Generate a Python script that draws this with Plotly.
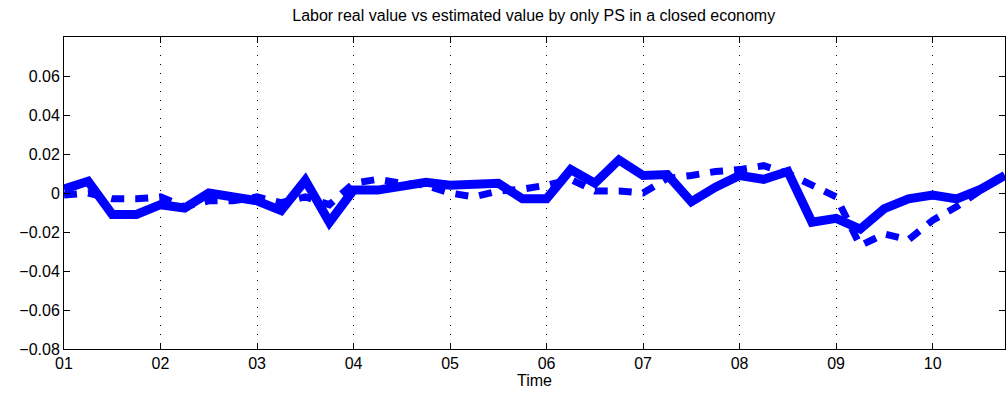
import plotly.graph_objects as go

t = [i * 0.25 for i in range(40)]
real = [0.002, 0.006, -0.011, -0.011, -0.006, -0.0077, 0.0, -0.002, -0.004, -0.009,
        0.0065, -0.015, 0.0015, 0.0015, 0.003, 0.0055, 0.004, 0.004, 0.005, -0.003,
        -0.003, 0.012, 0.005, 0.017, 0.009, 0.0095, -0.0045, 0.003, 0.009, 0.007,
        0.011, -0.015, -0.013, -0.0185, -0.008, -0.003, -0.001, -0.003, 0.002, 0.009]
est = [-0.001, 0.0, -0.003, -0.003, -0.002, -0.007, -0.004, -0.004, -0.002, -0.005,
       -0.002, -0.006, 0.005, 0.007, 0.005, 0.004, 0.0, -0.002, 0.001, 0.002,
       0.004, 0.007, 0.001, 0.001, 0.0, 0.0075, 0.009, 0.011, 0.012, 0.014,
       0.01, 0.004, -0.002, -0.027, -0.021, -0.024, -0.014, -0.007, 0.002, 0.01]
tickvals = list(range(10))
ticktext = ["01", "02", "03", "04", "05", "06", "07", "08", "09", "10"]

fig = go.Figure()
fig.add_trace(go.Scatter(x=t, y=est, mode="lines",
                         line=dict(color="#0000ff", width=7, dash="13px,11px")))
fig.add_trace(go.Scatter(x=t, y=real, mode="lines",
                         line=dict(color="#0000ff", width=9)))
axis_common = dict(showline=True, mirror="ticks", linecolor="black", linewidth=1,
                   ticks="inside", ticklen=6, tickcolor="black", zeroline=False,
                   automargin=False,
                   tickfont=dict(family="Liberation Sans, Arial", size=16, color="black"))
fig.update_layout(
    width=1007, height=401, template="none", showlegend=False,
    margin=dict(l=64, r=2, t=37, b=52, autoexpand=False),
    plot_bgcolor="white", paper_bgcolor="white",
    title=dict(text="Labor real value vs estimated value by only PS in a closed economy",
               x=0.53, xanchor="center", y=0.975, yanchor="top",
               font=dict(family="Liberation Sans, Arial", size=16, color="black")),
    xaxis=dict(range=[0, 9.75], tickvals=tickvals, ticktext=ticktext,
               showgrid=True, gridcolor="black", griddash="1px,8px", gridwidth=1,
               title=dict(text="Time", standoff=2,
                          font=dict(family="Liberation Sans, Arial", size=16, color="black")),
               **axis_common),
    yaxis=dict(range=[-0.08, 0.08], tickvals=[-0.08, -0.06, -0.04, -0.02, 0, 0.02, 0.04, 0.06],
               ticktext=["\u22120.08", "\u22120.06", "\u22120.04", "\u22120.02", "0", "0.02", "0.04", "0.06"],
               showgrid=False, **axis_common),
)
fig.write_html("out.html", config={"displayModeBar": False})
with open("out.html", encoding="utf-8") as f:
    html = f.read()
html = html.replace("<body>", '<body style="margin:0;padding:0">', 1)
with open("out.html", "w", encoding="utf-8") as f:
    f.write(html)
